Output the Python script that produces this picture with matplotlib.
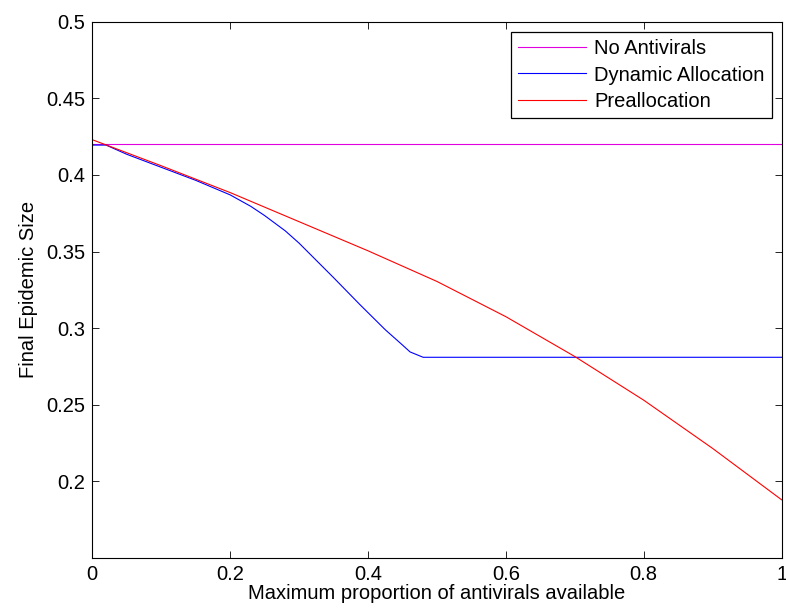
import numpy as np
import matplotlib
matplotlib.use('Agg')
import matplotlib.pyplot as plt

plt.rcParams['font.family'] = ['Liberation Sans', 'DejaVu Sans']

# values
x_none = [0.0, 1.0]
y_none = [0.42, 0.42]

x_dyn = [0.0, 0.02, 0.05, 0.1, 0.15, 0.2, 0.23, 0.25, 0.28, 0.3, 0.32, 0.35,
         0.388, 0.425, 0.45, 0.461, 0.48, 1.0]
y_dyn = [0.4195, 0.4195, 0.4135, 0.405, 0.3965, 0.387, 0.3795, 0.3735, 0.3635,
         0.3555, 0.3465, 0.333, 0.3155, 0.299, 0.289, 0.2845, 0.281, 0.281]

x_pre = [0.0, 0.1, 0.2, 0.3, 0.4, 0.5, 0.6, 0.7, 0.8, 0.9, 1.0]
y_pre = [0.423, 0.406, 0.3885, 0.3695, 0.3505, 0.3305, 0.3075, 0.2815, 0.253,
         0.2215, 0.188]

xticks = [0, 0.2, 0.4, 0.6, 0.8, 1]
xticklabels = ['0', '0.2', '0.4', '0.6', '0.8', '1']
yticks = [0.2, 0.25, 0.3, 0.35, 0.4, 0.45, 0.5]
yticklabels = ['0.2', '0.25', '0.3', '0.35', '0.4', '0.45', '0.5']

fs = 14.5

fig = plt.figure(figsize=(7.86, 6.14), dpi=100)
ax = fig.add_axes([0.1174, 0.0912, 0.8770, 0.8734])

ax.plot(x_none, y_none, color='#e000e0', lw=0.8, label='No Antivirals')
ax.plot(x_dyn, y_dyn, color='#0000ff', lw=0.8, label='Dynamic Allocation')
ax.plot(x_pre, y_pre, color='#ff0000', lw=0.8, label='Preallocation')

ax.set_xlim(0, 1)
ax.set_ylim(0.15, 0.5)
ax.set_xticks(xticks)
ax.set_xticklabels(xticklabels)
ax.set_yticks(yticks)
ax.set_yticklabels(yticklabels)
ax.tick_params(direction='in', length=5, width=0.6, top=True, right=True,
               labelsize=fs, pad=5)
for s in ax.spines.values():
    s.set_linewidth(0.8)

ax.set_xlabel('Maximum proportion of antivirals available', fontsize=fs, labelpad=0)
ax.set_ylabel('Final Epidemic Size', fontsize=fs, labelpad=6)

leg = ax.legend(loc='upper right', fontsize=fs, fancybox=False, framealpha=1,
                edgecolor='black', handlelength=3.4, handletextpad=0.4,
                labelspacing=0.38, borderpad=0.35, borderaxespad=0.5)
leg.get_frame().set_linewidth(0.9)

fig.savefig('out.png', dpi=100)
